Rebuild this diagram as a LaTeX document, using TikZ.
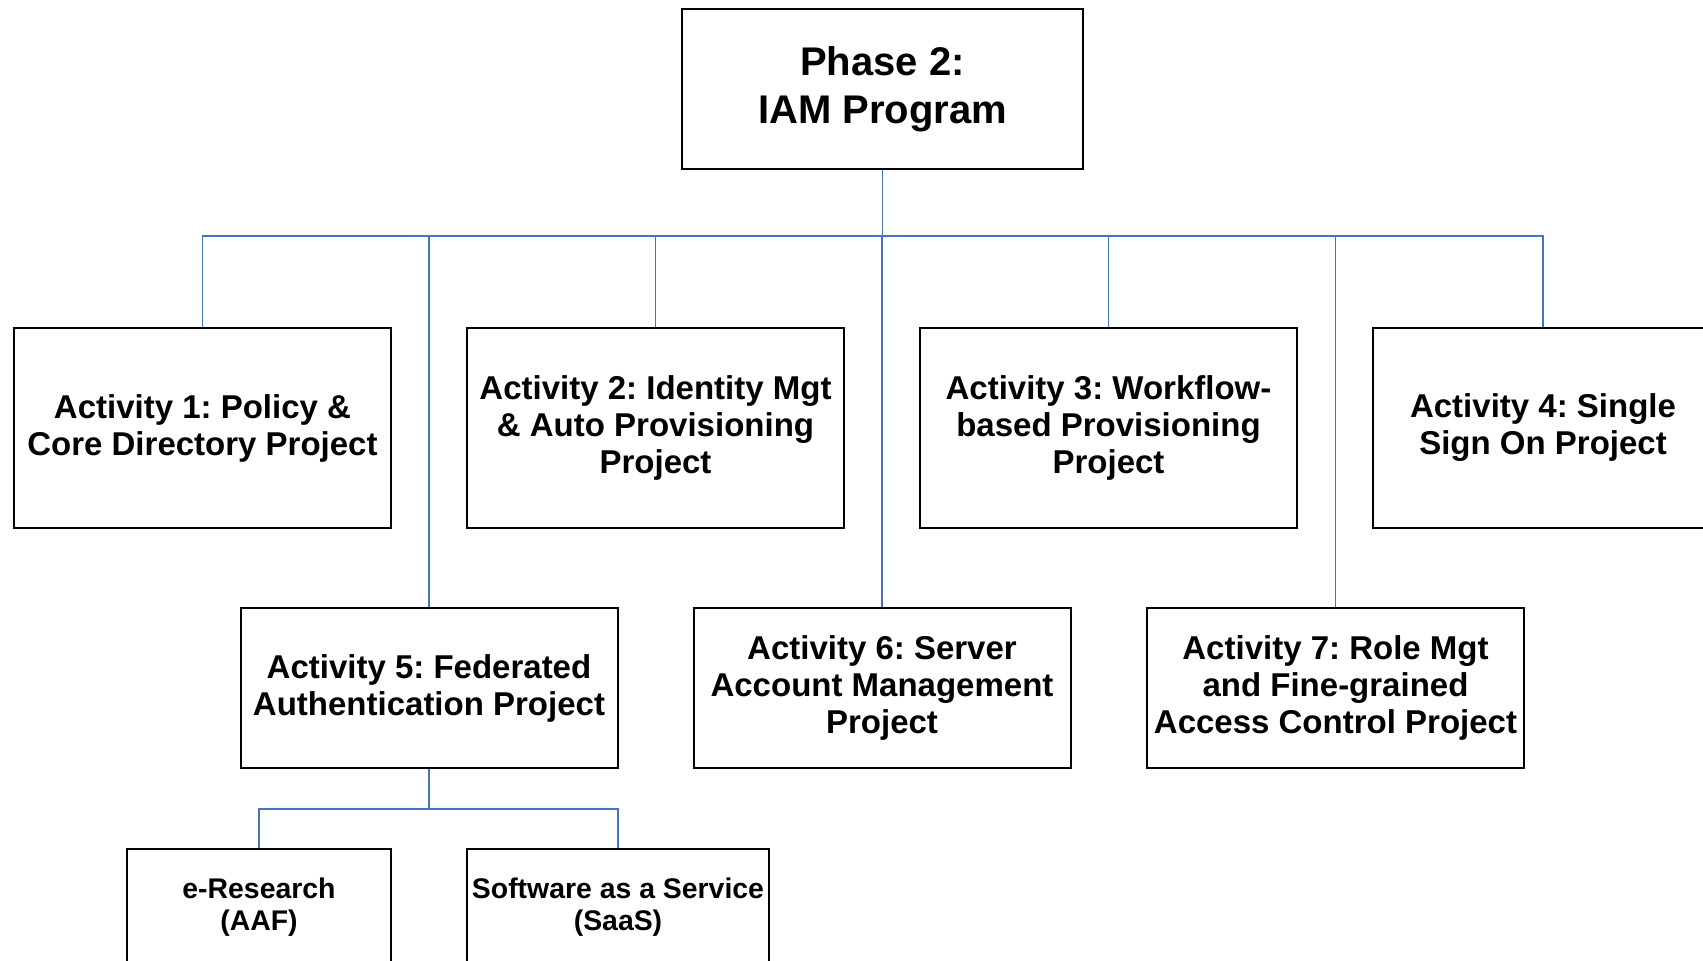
\documentclass[tikz,border=0pt]{standalone}
\usepackage{fontspec}
\setmainfont{Liberation Sans}
\frenchspacing
\definecolor{linkblue}{RGB}{68,114,196}
\tikzset{
  box/.style={draw=black,line width=1pt,align=center,inner sep=2pt},
  phase/.style={box,minimum width=200.5pt,minimum height=80pt,font=\bfseries\fontsize{20}{24}\selectfont},
  activity/.style={box,minimum width=188.5pt,minimum height=100pt,font=\bfseries\fontsize{16.5}{18.5}\selectfont},
  lowact/.style={activity,minimum height=80pt},
  sub/.style={box,minimum height=58pt,font=\bfseries\fontsize{14.2}{16}\selectfont},
  link/.style={draw=linkblue,line width=0.9pt}
}
\begin{document}
\begin{tikzpicture}[x=0.5pt,y=-0.5pt]
\useasboundingbox (0,0) rectangle (1703,960);
\def\rowa{428}
\def\rowb{688}
\node[phase,name=top] at (882.5,89){Phase 2:\\IAM Program};
% first row
\node[activity,name=a1] at (202.5,\rowa){Activity 1: Policy \&\\Core Directory Project};
\node[activity,name=a2] at (655.5,\rowa){Activity 2: Identity Mgt\\\& Auto Provisioning\\Project};
\node[activity,name=a3] at (1108.5,\rowa){Activity 3: Workflow-\\based Provisioning\\Project};
\node[activity,minimum width=170pt,name=a4] at (1543,\rowa){Activity 4: Single\\Sign On Project};
% second row
\node[lowact,name=a5] at (429,\rowb){Activity 5: Federated\\Authentication Project};
\node[lowact,name=a6] at (882,\rowb){Activity 6: Server\\Account Management\\Project};
\node[lowact,name=a7] at (1335.5,\rowb){Activity 7: Role Mgt\\and Fine-grained\\Access Control Project};
% under activity 5
\node[sub,minimum width=132pt,name=res] at (259,907){e-Research\\(AAF)};
\node[sub,minimum width=151pt,name=saas] at (618,907){Software as a Service\\(SaaS)};
\coordinate (bus) at (0,236);
\coordinate (sbus) at (0,809);
\foreach \n in {a1,a2,a3,a4,a5,a6,a7}
  \draw[link] (top.south)--(top.south|-bus)-|(\n.north);
\foreach \n in {res,saas}
  \draw[link] (a5.south)--(a5.south|-sbus)-|(\n.north);
\end{tikzpicture}
\end{document}
